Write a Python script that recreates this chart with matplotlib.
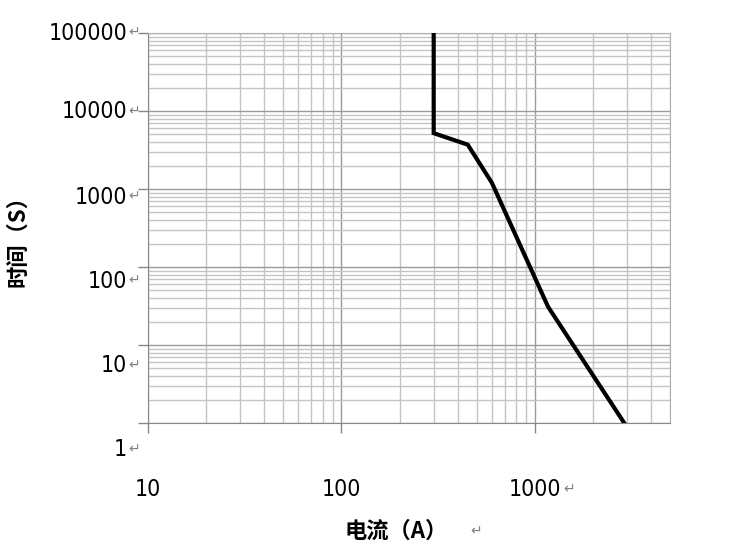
import matplotlib.pyplot as plt
from matplotlib.ticker import LogLocator, NullFormatter

plt.rcParams['font.family'] = ['DejaVu Sans', 'Noto Sans CJK SC']

# 电流 (A) / 时间 (s) 曲线
current = [300, 300, 450, 600, 1170, 2900]
time_s = [100000, 5200, 3700, 1200, 31, 1]

ytick_vals = [100000, 10000, 1000, 100, 10, 1]
ytick_text = ['100000', '10000', '1000', '100', '10', '1']
xtick_vals = [10, 100, 1000]
xtick_text = ['10', '100', '1000']

fig = plt.figure(figsize=(7.5, 5.55), dpi=100)
ax = fig.add_axes([148 / 750, 1 - 423 / 555, 522 / 750, 390 / 555])

ax.plot(current, time_s, color='black', lw=3, solid_joinstyle='miter', zorder=3)

ax.set_xscale('log')
ax.set_yscale('log')
ax.set_xlim(10, 5000)
ax.set_ylim(1, 100000)

ax.xaxis.set_major_locator(LogLocator(base=10, numticks=10))
ax.xaxis.set_minor_locator(LogLocator(base=10, subs=range(2, 10), numticks=20))
ax.yaxis.set_major_locator(LogLocator(base=10, numticks=10))
ax.yaxis.set_minor_locator(LogLocator(base=10, subs=range(2, 10), numticks=20))
ax.xaxis.set_major_formatter(NullFormatter())
ax.xaxis.set_minor_formatter(NullFormatter())
ax.yaxis.set_major_formatter(NullFormatter())
ax.yaxis.set_minor_formatter(NullFormatter())

ax.grid(which='major', color='#9a9a9a', lw=1)
ax.grid(which='minor', color='#c4c4c4', lw=1)
ax.tick_params(which='major', length=7, width=1, color='#888888', direction='out')
ax.tick_params(which='minor', length=0)
for side in ['left', 'bottom']:
    ax.spines[side].set_color('#888888')
for side in ['top', 'right']:
    ax.spines[side].set_color('#b0b0b0')

arrow = '\u21b5'
num_font = dict(fontsize=16.5, family='DejaVu Sans', fontstretch='condensed')

# 纵轴刻度文字（逐级略微下移，与原图一致）
y_shift = [0, 1, 8, 14, 21, 27]
for v, t, s in zip(ytick_vals, ytick_text, y_shift):
    ax.annotate(t, xy=(0, v), xycoords=('axes fraction', 'data'),
                xytext=(-21, -s), textcoords='offset pixels',
                ha='right', va='center', annotation_clip=False, **num_font)
    ax.annotate(arrow, xy=(0, v), xycoords=('axes fraction', 'data'),
                xytext=(-20, -s + 1), textcoords='offset pixels',
                ha='left', va='center', color='#808080', fontsize=10,
                annotation_clip=False)

# 横轴刻度文字
for v, t in zip(xtick_vals, xtick_text):
    ax.annotate(t, xy=(v, 0), xycoords=('data', 'axes fraction'),
                xytext=(0, -67), textcoords='offset pixels',
                ha='center', va='center', annotation_clip=False, **num_font)
ax.annotate(arrow, xy=(1000, 0), xycoords=('data', 'axes fraction'),
            xytext=(28, -66), textcoords='offset pixels',
            ha='left', va='center', color='#808080', fontsize=10,
            annotation_clip=False)

# 轴标题
fig.text(396 / 750, 1 - 531 / 555, '电流（A）', ha='center', va='center',
         fontsize=16, fontweight='bold', family=['Noto Sans CJK SC', 'DejaVu Sans'])
fig.text(476 / 750, 1 - 531 / 555, arrow, ha='center', va='center',
         fontsize=10, color='#808080')
fig.text(18 / 750, 1 - 236 / 555, '时间（S）', ha='center', va='center', rotation=90,
         fontsize=16, fontweight='bold', family=['Noto Sans CJK SC', 'DejaVu Sans'])

fig.savefig('out.png', dpi=100)
